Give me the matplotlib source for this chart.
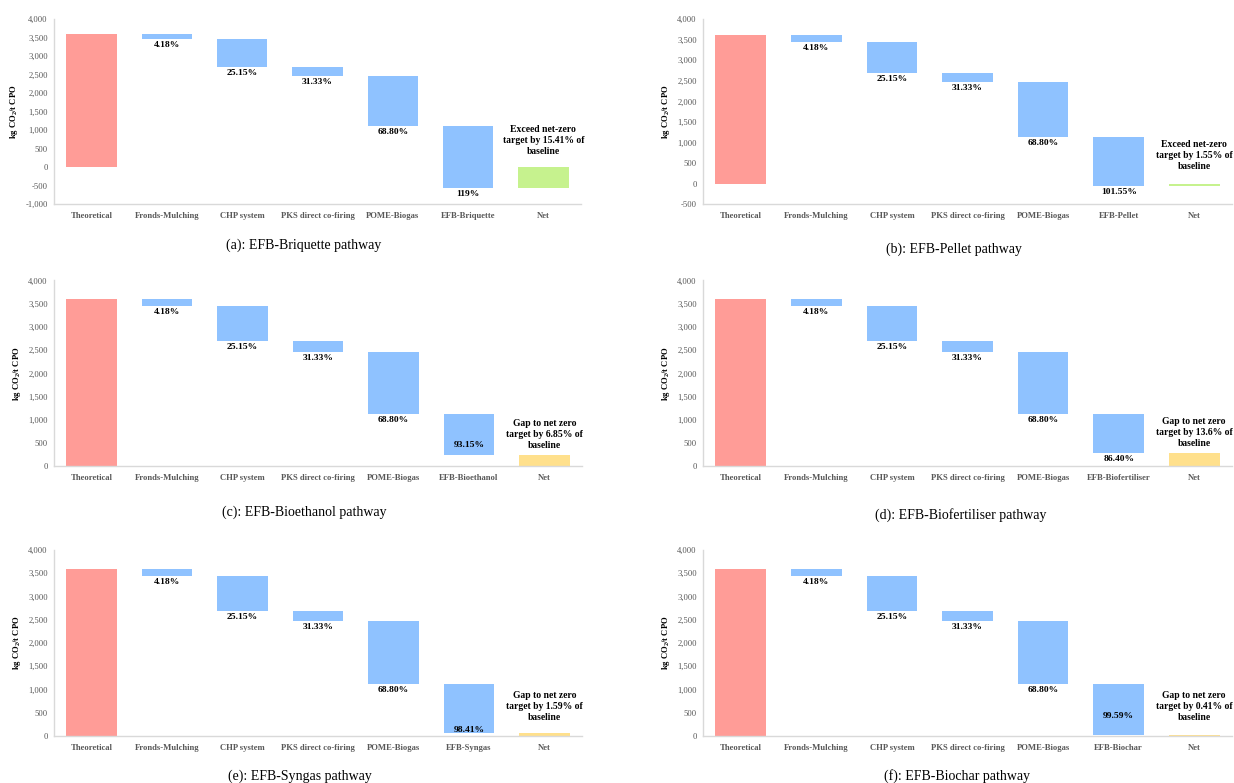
import numpy as np
import matplotlib.pyplot as plt

plt.rcParams['font.family'] = ['Liberation Serif', 'DejaVu Serif']
plt.rcParams['mathtext.default'] = 'regular'

# === Data (kg CO2 / t CPO) ===
steps = ["Theoretical", "Fronds-Mulching", "CHP system", "PKS direct co-firing", "POME-Biogas"]
pathways = ["EFB-Briquette", "EFB-Pellet", "EFB-Bioethanol", "EFB-Biofertiliser", "EFB-Syngas", "EFB-Biochar"]
# emission level left after each shared step
levels = [3600, 3450, 2695, 2470, 1125]
step_labels = ["4.18%", "25.15%", "31.33%", "68.80%"]
# emission level left after the EFB step (= net)
final_levels = [-550, -56, 247, 285, 57, 15]
final_labels = ["119%", "101.55%", "93.15%", "86.40%", "98.41%", "99.59%"]
notes = [
    "Exceed net-zero\ntarget by 15.41% of\nbaseline",
    "Exceed net-zero\ntarget by 1.55% of\nbaseline",
    "Gap to net zero\ntarget by 6.85% of\nbaseline",
    "Gap to net zero\ntarget by 13.6% of\nbaseline",
    "Gap to net zero\ntarget by 1.59% of\nbaseline",
    "Gap to net zero\ntarget by 0.41% of\nbaseline",
]
captions = ["(a): EFB-Briquette pathway", "(b): EFB-Pellet pathway", "(c): EFB-Bioethanol pathway",
            "(d): EFB-Biofertiliser pathway", "(e): EFB-Syngas pathway", "(f): EFB-Biochar pathway"]
y_mins = [-1000, -500, 0, 0, 0, 0]

# === Layout / style ===
W, H = 1234, 783
axes_px = [(54, 19, 581, 204.3), (703, 19, 1232, 204.3),
           (54, 280.5, 582, 466.3), (703, 280.5, 1232, 466.3),
           (54, 550, 582, 736), (703, 550, 1232, 736)]
caption_px = [(304, 245), (954, 249), (304, 512), (961, 515), (300, 776), (957, 776)]
inside_label_y = {2: 460, 4: 130, 5: 435}   # last-bar labels drawn inside the bar

RED, BLUE, GREEN, YELLOW = "#FF9C97", "#8FC2FF", "#C6F28E", "#FFE08C"
GREY_TXT, GREY_AX = "#595959", "#D9D9D9"
BW = 0.67

fig = plt.figure(figsize=(W / 100, H / 100), dpi=100)

for k in range(6):
    x0, y0, x1, y1 = axes_px[k]
    ax = fig.add_axes([x0 / W, 1 - y1 / H, (x1 - x0) / W, (y1 - y0) / H])

    cats = steps + [pathways[k], "Net"]
    tops = [levels[0]] + levels[:-1] + [levels[-1], max(final_levels[k], 0)]
    bottoms = [0] + levels[1:] + [final_levels[k], min(final_levels[k], 0)]
    heights = np.array(tops) - np.array(bottoms)
    net_color = GREEN if final_levels[k] < 0 else YELLOW
    colors = [RED] + [BLUE] * 5 + [net_color]
    x = np.arange(len(cats))
    ax.bar(x, heights, bottom=bottoms, width=BW, color=colors, linewidth=0)

    # percentage labels under the reduction bars
    for i, lab in enumerate(step_labels + [final_labels[k]]):
        xi = i + 1
        if xi == 5 and k in inside_label_y:
            ax.text(xi, inside_label_y[k], lab, ha="center", va="center",
                    fontsize=6.8, fontweight="bold", color="black")
        else:
            ax.annotate(lab, (xi, bottoms[xi]), xytext=(0, -1.5), textcoords="offset points",
                        ha="center", va="top", fontsize=6.8, fontweight="bold", color="black")

    note_y = max(max(final_levels[k], 0) + 100, 300)
    ax.text(6, note_y, notes[k], ha="center", va="bottom", fontsize=6.9,
            fontweight="bold", color="black", linespacing=1.3)

    ax.set_xlim(-0.5, 6.5)
    ax.set_ylim(y_mins[k], 4000)
    ax.set_yticks(np.arange(y_mins[k], 4001, 500))
    ax.yaxis.set_major_formatter(plt.FuncFormatter(lambda v, p: f"{int(v):,}"))
    ax.set_xticks(x)
    ax.set_xticklabels(cats, fontweight="bold")
    ax.tick_params(axis="both", length=0, colors=GREY_TXT, labelsize=6.2)
    ax.tick_params(axis="x", pad=5.5)
    ax.tick_params(axis="y", pad=4.5)
    for s in ["top", "right"]:
        ax.spines[s].set_visible(False)
    for s in ["left", "bottom"]:
        ax.spines[s].set_color(GREY_AX)
        ax.spines[s].set_linewidth(1.0)
    ax.set_ylabel("kg CO$_2$/t CPO", fontsize=6.2, fontweight="bold", color="black", labelpad=4)

    cx, cy = caption_px[k]
    fig.text(cx / W, 1 - cy / H, captions[k], ha="center", va="center", fontsize=10, color="black")

plt.savefig("out.png", dpi=100)
